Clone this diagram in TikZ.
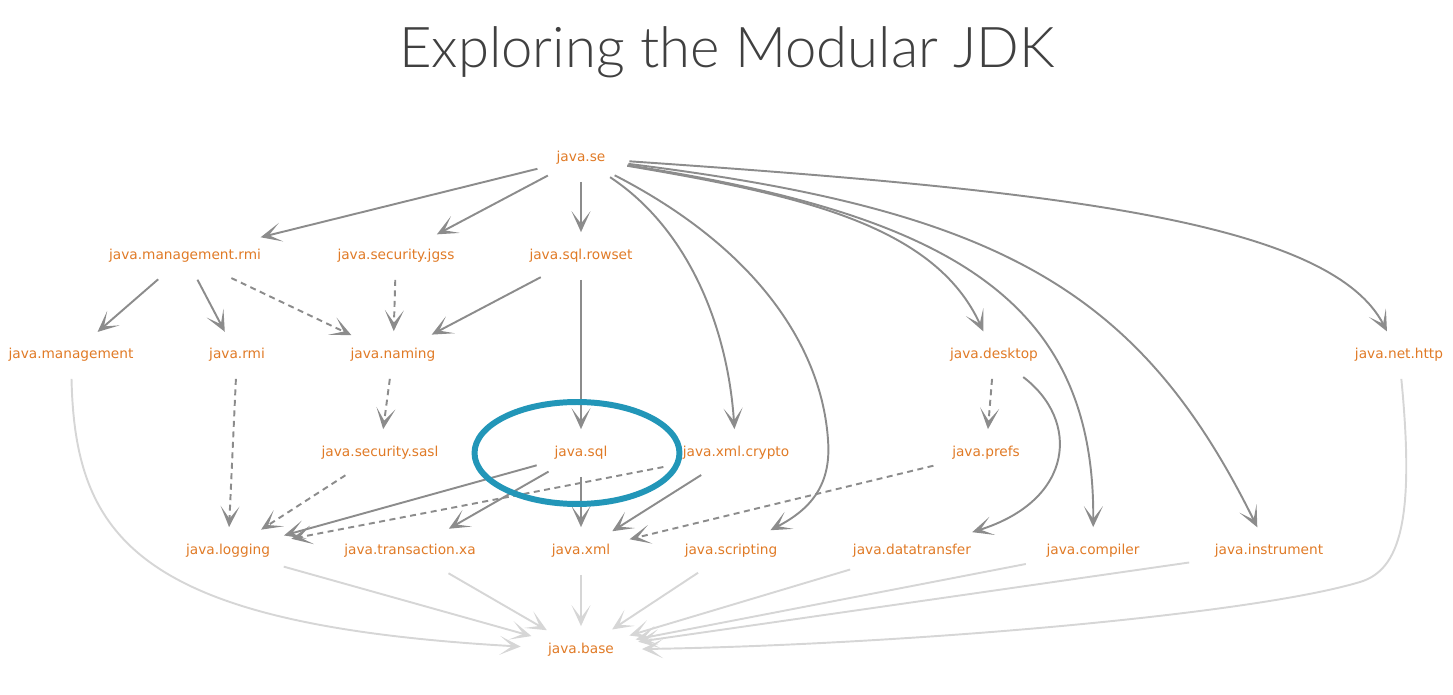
\documentclass[tikz,border=0pt]{standalone}
\usepackage{fontspec}
\newfontfamily\modfont{DejaVu Sans}
\newfontfamily\titlefont{Lato Light}
\usetikzlibrary{arrows.meta,shapes.geometric}

\definecolor{modorange}{RGB}{224,122,38}
\definecolor{depgray}{RGB}{140,140,140}
\definecolor{basegray}{RGB}{214,214,214}
\definecolor{ringblue}{RGB}{34,150,184}
\definecolor{titlegray}{RGB}{64,64,64}

\begin{document}
\begin{tikzpicture}[x=0.02cm, y=-0.02cm,
  % Node styles
  mod/.style={shape=ellipse, inner sep=2mm, text=modorange,
              font=\modfont\fontsize{7.8}{9}\selectfont},
  ring/.style={shape=ellipse, draw=ringblue, line width=3.4pt,
               minimum width=4.1cm, minimum height=2.04cm},
  % Arrow styles
  dep/.style={-{Stealth[length=4.2mm, width=3.8mm, inset=2.5mm]}, line width=1.1pt, depgray},
  opt/.style={dep, dash pattern=on 1.2mm off 0.9mm},
  tobase/.style={-{Stealth[length=4.2mm, width=3.8mm, inset=2.5mm]}, line width=1.1pt, basegray},
]
\useasboundingbox (0,0) rectangle (1453,695);

% === Title ===
\node[text=titlegray, font=\titlefont\fontsize{32}{38}\selectfont] (title) at (727,52) {Exploring the Modular JDK};

% === Row 1 ===
\node[mod] (se) at (581,158) {java.se};

% === Row 2 ===
\node[mod] (mgmtrmi) at (185,256) {java.management.rmi};
\node[mod] (jgss)    at (396,256) {java.security.jgss};
\node[mod] (rowset)  at (581,256) {java.sql.rowset};

% === Row 3 ===
\node[mod] (mgmt)    at (71,355)   {java.management};
\node[mod] (rmi)     at (237,355)  {java.rmi};
\node[mod] (naming)  at (393,355)  {java.naming};
\node[mod] (desktop) at (994,355)  {java.desktop};
\node[mod] (http)    at (1399,355) {java.net.http};

% === Row 4 ===
\node[mod] (sasl)   at (380,453) {java.security.sasl};
\node[mod] (sql)    at (581,453) {java.sql};
\node[mod] (crypto) at (736,453) {java.xml.crypto};
\node[mod] (prefs)  at (986,453) {java.prefs};

% === Row 5 ===
\node[mod] (logging)   at (228,551)  {java.logging};
\node[mod] (xa)        at (410,551)  {java.transaction.xa};
\node[mod] (xml)       at (581,551)  {java.xml};
\node[mod] (scripting) at (731,551)  {java.scripting};
\node[mod] (transfer)  at (912,551)  {java.datatransfer};
\node[mod] (compiler)  at (1093,551) {java.compiler};
\node[mod] (instr)     at (1269,551) {java.instrument};

% === Row 6 ===
\node[mod] (base) at (581,650) {java.base};

% === java.se arrows ===
\draw[dep] (se) -- (mgmtrmi);
\draw[dep] (se) -- (jgss);
\draw[dep] (se) -- (rowset);
\draw[dep] (se) .. controls (690,230) and (728,330) .. (crypto);
\draw[dep] (se) .. controls (760,250) and (822,350) .. (828,440)
                .. controls (832,490) and (805,512) .. (scripting);
\draw[dep] (se) .. controls (800,195) and (935,225) .. (desktop);
\draw[dep] (se) .. controls (950,215) and (1095,300) .. (compiler);
\draw[dep] (se) .. controls (1000,210) and (1140,290) .. (instr);
\draw[dep] (se) .. controls (1050,190) and (1330,220) .. (http);

% === Middle arrows ===
\draw[dep] (mgmtrmi) -- (mgmt);
\draw[dep] (mgmtrmi) -- (rmi);
\draw[opt] (mgmtrmi) -- (naming);
\draw[opt] (jgss) -- (naming);
\draw[dep] (rowset) -- (naming);
\draw[dep] (rowset) -- (sql);
\draw[opt] (naming) -- (sasl);
\draw[opt] (rmi) -- (logging);
\draw[opt] (sasl) -- (logging);
\draw[dep] (sql) -- (logging);
\draw[dep] (sql) -- (xa);
\draw[dep] (sql) -- (xml);
\draw[opt] (crypto) -- (logging);
\draw[dep] (crypto) -- (xml);
\draw[opt] (prefs) -- (xml);
\draw[opt] (desktop) -- (prefs);
\draw[dep] (desktop) .. controls (1080,420) and (1075,500) .. (transfer);

% === java.base arrows ===
\draw[tobase] (mgmt) .. controls (75,540) and (140,625) .. (base);
\draw[tobase] (logging) -- (base);
\draw[tobase] (xa) -- (base);
\draw[tobase] (xml) -- (base);
\draw[tobase] (scripting) -- (base);
\draw[tobase] (transfer) -- (base);
\draw[tobase] (compiler) -- (base);
\draw[tobase] (instr) -- (base);
\draw[tobase] (http) .. controls (1415,520) and (1400,570) .. (1360,582)
                     .. controls (1250,615) and (900,645) .. (base);

% === Highlight ===
\node[ring] (sqlring) at ([xshift=-0.08cm]sql) {};

\end{tikzpicture}
\end{document}
